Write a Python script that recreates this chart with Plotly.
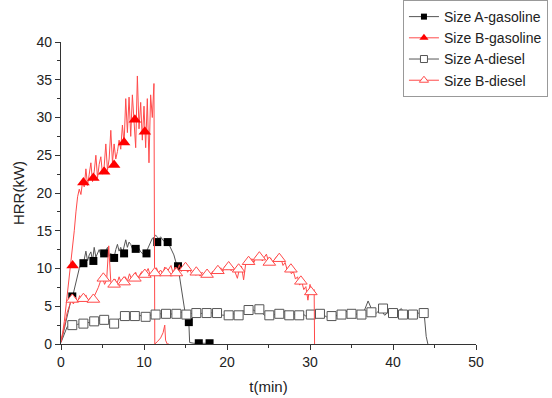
import plotly.graph_objects as go

# ---- Size A-gasoline: recorded HRR curve and marker samples ----
a_gas_t = [0.0, 0.2, 0.4, 0.6, 0.8, 1.0, 1.2, 1.4, 1.6, 1.8, 2.0, 2.2, 2.4, 2.6, 2.8,
           3.0, 3.2, 3.4, 3.6, 3.8, 4.0, 4.2, 4.4, 4.6, 4.8, 5.0, 5.2, 5.4, 5.6, 5.8,
           6.0, 6.2, 6.4, 6.6, 6.8, 7.0, 7.2, 7.4, 7.6, 7.8, 8.0, 8.2, 8.4, 8.6, 8.8,
           9.0, 9.2, 9.4, 9.6, 9.8, 10.0, 10.2, 10.4, 10.6, 10.8, 11.0, 11.2, 11.4,
           11.6, 11.8, 12.0, 12.2, 12.4, 12.6, 12.8, 13.0, 13.2, 13.4, 13.6, 13.8,
           14.0, 14.2, 14.4, 14.6, 14.8, 15.0, 15.2, 15.4, 15.5, 16.0, 17.0, 18.0]
a_gas_v = [0.3, 1.0, 2.0, 3.0, 4.0, 5.0, 5.8, 6.3, 7.2, 8.3, 9.2, 10.0, 10.5, 10.8, 11.2,
           12.3, 11.0, 11.8, 12.2, 11.0, 12.8, 11.5, 12.0, 12.5, 11.8, 12.3, 12.0, 12.4, 12.8, 11.6,
           12.0, 11.4, 11.5, 12.5, 13.2, 12.3, 12.8, 12.0, 13.0, 13.8, 12.8, 13.5, 13.2, 12.6, 13.0,
           12.6, 13.0, 12.5, 12.2, 12.0, 11.8, 12.0, 12.5, 13.2, 13.6, 14.0, 14.1, 14.4,
           14.2, 13.9, 14.2, 13.8, 13.6, 13.4, 13.5, 13.2, 12.8, 12.3, 11.8, 11.0,
           10.4, 9.5, 8.0, 6.5, 5.0, 3.8, 3.2, 2.9, 0.2, 0.1, 0.1, 0.1]
a_gas_mt = [1.36, 2.7, 3.9, 5.2, 6.4, 7.6, 9.0, 10.3, 11.6, 12.85, 14.1, 15.4, 16.6, 17.9]
a_gas_mv = [6.3, 10.7, 11.0, 12.0, 11.4, 12.0, 12.6, 12.0, 13.5, 13.5, 10.3, 2.9, 0.1, 0.1]

# ---- Size B-gasoline ----
b_gas_t = [0.0, 0.2, 0.4, 0.6, 0.8, 1.0, 1.2, 1.4, 1.6, 1.8, 2.0, 2.2, 2.4, 2.6, 2.8,
           3.0, 3.2, 3.4, 3.6, 3.8, 4.0, 4.2, 4.4, 4.6, 4.8, 5.0, 5.2, 5.4, 5.6, 5.8,
           6.0, 6.2, 6.4, 6.6, 6.8, 7.0, 7.2, 7.4, 7.6, 7.8, 8.0, 8.2, 8.4, 8.6, 8.8,
           9.0, 9.2, 9.4, 9.6, 9.8, 10.0, 10.2, 10.4, 10.6, 10.8, 11.0, 11.2, 11.3,
           11.6, 12.0, 12.3, 12.5, 12.6, 12.8, 13.0]
b_gas_v = [0.5, 1.5, 3.0, 5.0, 7.0, 9.0, 11.0, 12.5, 15.0, 17.5, 19.5, 20.5, 19.8, 21.5, 20.8,
           23.2, 21.0, 22.5, 24.0, 21.5, 22.8, 25.0, 22.0, 23.8, 24.8, 22.5, 23.5, 26.5, 23.0, 24.5,
           28.3, 24.0, 26.5, 24.5, 25.5, 27.0, 25.8, 29.0, 26.5, 32.5, 28.0, 32.7, 27.5, 33.0, 29.5,
           26.0, 35.5, 28.5, 32.0, 27.0, 31.5, 26.0, 32.5, 24.0, 33.0, 30.0, 34.5, 0.0,
           0.3, 0.8, 1.5, 2.5, 0.5, 0.0, 0.0]
b_gas_mt = [1.4, 2.7, 3.9, 5.2, 6.4, 7.6, 8.9, 10.1]
b_gas_mv = [10.4, 21.4, 22.0, 22.8, 23.7, 26.7, 29.7, 28.1]

# ---- Size A-diesel ----
a_die_t = [0.0, 0.25, 0.5, 0.75, 1.0, 1.5, 2.0, 2.5, 3.0, 3.5, 4.0, 4.5, 5.0, 5.5, 6.0,
           6.5, 7.0, 7.5, 8.0, 8.5, 9.0, 9.5, 10.0, 10.5, 11.0, 11.5, 12.0, 12.5, 13.0,
           13.5, 14.0, 14.5, 15.0, 15.5, 16.0, 16.5, 17.0, 17.5, 18.0, 18.5, 19.0, 19.5,
           20.0, 20.5, 21.0, 21.5, 22.0, 22.5, 23.0, 23.5, 24.0, 24.5, 25.0, 25.5, 26.0,
           26.5, 27.0, 27.5, 28.0, 28.5, 29.0, 29.5, 30.0, 30.5, 31.0, 31.5, 32.0, 32.5,
           33.0, 33.5, 34.0, 34.5, 35.0, 35.5, 36.0, 36.5, 37.0, 37.5, 38.0, 38.5, 39.0,
           39.5, 40.0, 40.5, 41.0, 41.5, 42.0, 42.5, 43.0, 43.5, 43.75, 44.0, 44.2]
a_die_v = [0.2, 1.0, 1.8, 2.3, 2.5, 2.4, 2.6, 2.7, 2.9, 2.8, 3.0, 3.1, 3.2, 3.0, 2.9,
           3.1, 3.3, 3.7, 3.4, 3.7, 3.6, 3.8, 3.5, 3.7, 3.9, 3.8, 4.0, 3.9, 4.1,
           3.9, 4.0, 4.2, 3.9, 4.1, 4.0, 3.8, 4.1, 4.0, 4.2, 3.9, 4.1, 3.8,
           3.9, 4.1, 3.9, 4.2, 4.4, 4.0, 4.6, 4.3, 4.5, 3.8, 4.0, 3.7, 4.2,
           3.9, 4.4, 3.7, 4.0, 3.6, 4.1, 3.7, 4.0, 3.8, 4.2, 3.9, 3.6, 4.0,
           3.5, 4.2, 3.9, 4.4, 3.7, 4.0, 3.8, 4.3, 5.7, 4.4, 4.1, 4.6, 3.8,
           4.3, 4.0, 4.2, 4.7, 3.8, 4.1, 3.7, 4.2, 3.5, 4.1, 1.0, 0.0]
a_die_mt = [1.36, 2.7, 4.0, 5.2, 6.4, 7.7, 8.9, 10.2, 11.4, 12.65, 13.9, 15.1, 16.3,
            17.55, 18.8, 20.2, 21.4, 22.6, 23.9, 25.1, 26.3, 27.5, 28.7, 30.1, 31.2,
            32.6, 33.8, 35.0, 36.2, 37.4, 38.8, 40.0, 41.2, 42.4, 43.7]
a_die_mv = [2.5, 2.7, 3.0, 3.2, 2.7, 3.7, 3.7, 3.6, 3.9, 4.0, 4.0, 3.9, 4.1,
            4.1, 4.1, 3.8, 3.8, 4.5, 4.6, 3.8, 4.0, 3.8, 3.8, 3.9, 4.0,
            3.7, 3.9, 4.0, 3.9, 4.2, 4.7, 4.1, 3.9, 3.9, 4.1]

# ---- Size B-diesel ----
b_die_t = [0.0, 0.25, 0.5, 0.75, 1.0, 1.25, 1.5, 1.75, 2.0, 2.25, 2.5, 2.75, 3.0, 3.25,
           3.5, 3.75, 4.0, 4.25, 4.5, 4.75, 5.0, 5.25, 5.5, 5.75, 6.0, 6.25, 6.5, 6.75,
           7.0, 7.25, 7.5, 7.75, 8.0, 8.25, 8.5, 8.75, 9.0, 9.25, 9.5, 9.75, 10.0, 10.25,
           10.5, 10.75, 11.0, 11.25, 11.5, 11.75, 12.0, 12.25, 12.5, 12.75, 13.0, 13.25,
           13.5, 13.75, 14.0, 14.25, 14.5, 14.75, 15.0, 15.25, 15.5, 15.75, 16.0, 16.25,
           16.5, 16.75, 17.0, 17.25, 17.5, 17.75, 18.0, 18.25, 18.5, 18.75, 19.0, 19.25,
           19.5, 19.75, 20.0, 20.25, 20.5, 20.75, 21.0, 21.25, 21.5, 21.75, 22.0, 22.25,
           22.5, 22.75, 23.0, 23.25, 23.5, 23.75, 24.0, 24.25, 24.5, 24.75, 25.0, 25.25,
           25.5, 25.75, 26.0, 26.25, 26.5, 26.75, 27.0, 27.25, 27.5, 27.75, 28.0, 28.25,
           28.5, 28.75, 29.0, 29.25, 29.5, 29.75, 30.0, 30.25, 30.5, 30.55]
b_die_v = [0.2, 1.5, 3.0, 4.2, 5.0, 5.8, 5.3, 6.2, 5.6, 6.4, 5.8, 6.0, 6.5, 5.5,
           6.1, 5.7, 6.3, 6.8, 7.5, 8.3, 8.8, 7.9, 8.5, 13.0, 8.2, 7.8, 8.6, 8.0,
           8.9, 8.1, 8.5, 8.9, 8.3, 9.3, 8.6, 8.9, 9.5, 8.7, 9.2, 9.6, 8.9, 9.4,
           10.0, 9.1, 9.6, 9.2, 10.1, 9.4, 9.8, 9.3, 10.2, 9.5, 9.9, 10.4,
           9.4, 10.2, 9.7, 10.5, 9.6, 10.0, 10.3, 9.5, 9.9, 9.3, 9.8, 9.1,
           9.6, 9.0, 9.5, 9.2, 8.9, 9.4, 9.0, 9.6, 9.3, 9.9, 9.5, 10.1,
           9.6, 10.3, 9.8, 10.4, 9.7, 10.2, 9.4, 8.7, 10.0, 10.3, 8.5, 10.6,
           11.0, 10.5, 11.3, 10.8, 11.6, 11.2, 11.8, 11.0, 11.5, 11.9, 10.9, 11.4,
           10.8, 11.2, 11.6, 10.9, 11.3, 10.4, 10.8, 9.8, 10.3, 9.3, 9.6, 8.6,
           8.9, 7.8, 8.3, 7.2, 7.6, 5.8, 7.9, 6.6, 7.2, 0.0]
b_die_mt = [1.36, 2.7, 3.9, 5.1, 6.4, 7.6, 8.9, 10.1, 11.3, 12.65, 13.9, 15.0, 16.3,
            17.6, 18.9, 20.2, 21.4, 22.6, 23.9, 25.1, 26.3, 27.7, 28.9, 30.1]
b_die_mv = [5.9, 6.0, 5.9, 8.7, 7.9, 8.2, 8.7, 9.2, 9.4, 9.4, 9.4, 10.1, 9.5,
            9.2, 9.7, 10.2, 9.9, 10.9, 11.5, 10.8, 11.3, 9.9, 8.3, 6.9]

BLACK_LINE = "#555555"
RED_LINE = "#ff4a4a"
FONT = "Liberation Sans, Arial, sans-serif"

series = [
    ("Size A-gasoline", a_gas_t, a_gas_v, a_gas_mt, a_gas_mv, BLACK_LINE,
     dict(symbol="square", color="#000000", line=dict(width=0)), 8, 6),
    ("Size B-gasoline", b_gas_t, b_gas_v, b_gas_mt, b_gas_mv, RED_LINE,
     dict(symbol="triangle-up", color="#ff0000", line=dict(width=0)), 11, 8),
    ("Size A-diesel", a_die_t, a_die_v, a_die_mt, a_die_mv, BLACK_LINE,
     dict(symbol="square", color="white", line=dict(width=1, color="#555555")), 9, 7),
    ("Size B-diesel", b_die_t, b_die_v, b_die_mt, b_die_mv, RED_LINE,
     dict(symbol="triangle-up", color="white", line=dict(width=1, color="#ff4a4a")), 11, 8),
]

fig = go.Figure()
for name, t, v, mt, mv, lc, mk, size, key_size in series:
    # continuous HRR record
    fig.add_trace(go.Scatter(x=t, y=v, mode="lines", line=dict(color=lc, width=1),
                             showlegend=False, hoverinfo="skip"))
    # sparse symbols along the record
    fig.add_trace(go.Scatter(x=mt, y=mv, mode="markers", marker=dict(size=size, **mk),
                             showlegend=False, name=name))
    # legend key combining line and symbol
    fig.add_trace(go.Scatter(x=[None], y=[None], mode="lines+markers", name=name,
                             line=dict(color=lc, width=1),
                             marker=dict(size=key_size, **mk)))

axis_common = dict(
    showline=True, linecolor="#333333", linewidth=1.3,
    ticks="outside", ticklen=5, tickwidth=1.2, tickcolor="#333333",
    showgrid=False, zeroline=False, mirror=False,
    tickfont=dict(family=FONT, size=14, color="#222222"),
)

fig.update_xaxes(range=[0, 50], dtick=10, tick0=0,
                 minor=dict(dtick=5, ticklen=3, ticks="outside", tickcolor="#333333"),
                 title=dict(text="t(min)", font=dict(family=FONT, size=15, color="#222222"),
                            standoff=12),
                 **axis_common)
fig.update_yaxes(range=[0, 40], dtick=5, tick0=0,
                 minor=dict(dtick=2.5, ticklen=3, ticks="outside", tickcolor="#333333"),
                 title=dict(text="HRR(kW)", font=dict(family=FONT, size=15, color="#222222"),
                            standoff=8),
                 **axis_common)

fig.update_layout(
    width=552, height=398,
    margin=dict(l=61, r=76, t=42, b=54, autoexpand=False),
    paper_bgcolor="white", plot_bgcolor="white",
    font=dict(family=FONT, color="#222222"),
    legend=dict(x=0.824, y=1.139, xanchor="left", yanchor="top",
                bgcolor="white", bordercolor="#999999", borderwidth=1,
                font=dict(family=FONT, size=14, color="#222222"),
                tracegroupgap=0, itemwidth=30),
)

fig.write_html("out.html")
